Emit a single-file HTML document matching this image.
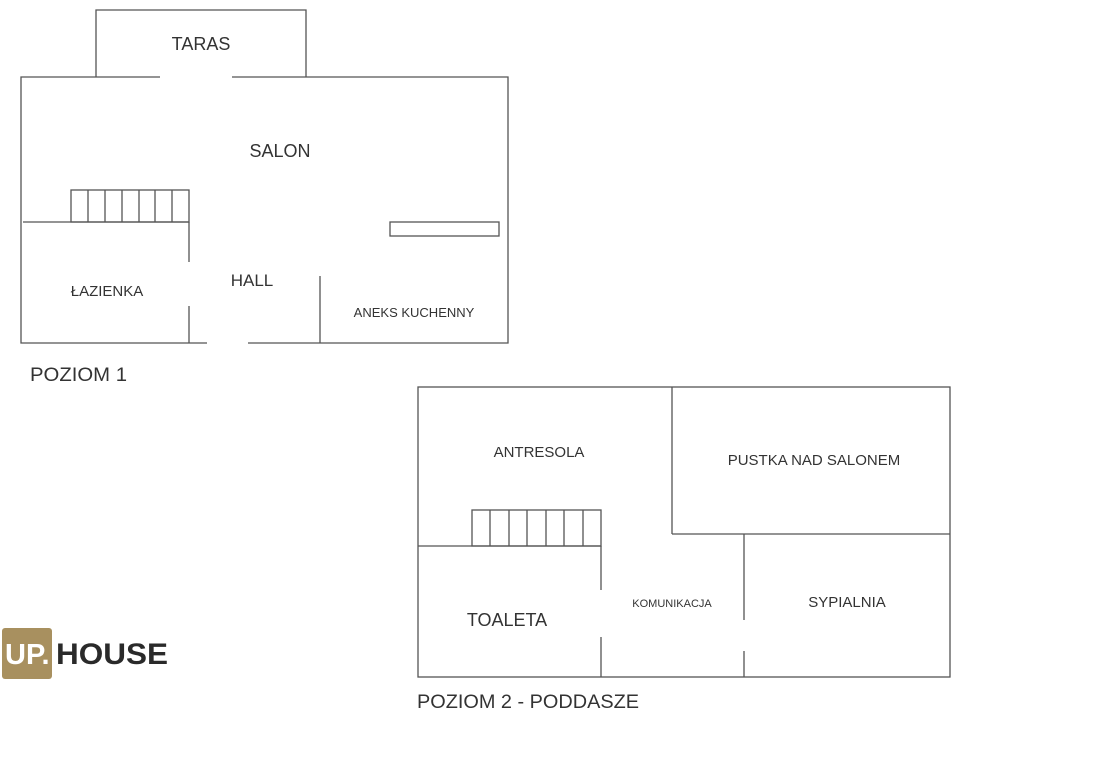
<!DOCTYPE html>
<html><head><meta charset="utf-8"><style>
html,body{margin:0;padding:0;background:#fff;}
svg{display:block}
text{font-family:"Liberation Sans",sans-serif;fill:#333;}
</style></head><body>
<svg width="1102" height="769" viewBox="0 0 1102 769" xmlns="http://www.w3.org/2000/svg">
<g stroke="#555" stroke-width="1.3" fill="none">
<!-- Level 1 -->
<polyline points="96,77 96,10 306,10 306,77"/>
<polyline points="160,77 21,77 21,343 207,343"/>
<polyline points="232,77 508,77 508,343 248,343"/>
<line x1="23" y1="222" x2="189" y2="222"/>
<rect x="71" y="190" width="118" height="32"/>
<line x1="88" y1="190" x2="88" y2="222"/><line x1="105" y1="190" x2="105" y2="222"/>
<line x1="122" y1="190" x2="122" y2="222"/><line x1="139" y1="190" x2="139" y2="222"/>
<line x1="155" y1="190" x2="155" y2="222"/><line x1="172" y1="190" x2="172" y2="222"/>
<line x1="189" y1="222" x2="189" y2="262"/><line x1="189" y1="306" x2="189" y2="343"/>
<rect x="390" y="222" width="109" height="14"/>
<line x1="320" y1="276" x2="320" y2="343"/>
<!-- Level 2 -->
<rect x="418" y="387" width="532" height="290"/>
<line x1="672" y1="387" x2="672" y2="534"/>
<line x1="672" y1="534" x2="950" y2="534"/>
<line x1="744" y1="534" x2="744" y2="620"/><line x1="744" y1="651" x2="744" y2="677"/>
<line x1="418" y1="546" x2="601" y2="546"/>
<rect x="472" y="510" width="129" height="36"/>
<line x1="490" y1="510" x2="490" y2="546"/><line x1="509" y1="510" x2="509" y2="546"/>
<line x1="527" y1="510" x2="527" y2="546"/><line x1="546" y1="510" x2="546" y2="546"/>
<line x1="564" y1="510" x2="564" y2="546"/><line x1="583" y1="510" x2="583" y2="546"/>
<line x1="601" y1="546" x2="601" y2="590"/><line x1="601" y1="637" x2="601" y2="677"/>
</g>
<text x="201" y="50" font-size="18" text-anchor="middle">TARAS</text>
<text x="280" y="157" font-size="18" text-anchor="middle">SALON</text>
<text x="107" y="296" font-size="15" text-anchor="middle">ŁAZIENKA</text>
<text x="252" y="286" font-size="17" text-anchor="middle">HALL</text>
<text x="414" y="317" font-size="13" text-anchor="middle">ANEKS KUCHENNY</text>
<text x="30" y="381" font-size="19" textLength="97" lengthAdjust="spacingAndGlyphs">POZIOM 1</text>
<text x="539" y="457" font-size="15" text-anchor="middle">ANTRESOLA</text>
<text x="814" y="465" font-size="15" text-anchor="middle">PUSTKA NAD SALONEM</text>
<text x="507" y="626" font-size="18" text-anchor="middle">TOALETA</text>
<text x="672" y="607" font-size="11" text-anchor="middle">KOMUNIKACJA</text>
<text x="847" y="607" font-size="15" text-anchor="middle">SYPIALNIA</text>
<text x="417" y="708" font-size="19" textLength="222" lengthAdjust="spacingAndGlyphs">POZIOM 2 - PODDASZE</text>
<rect x="2" y="628" width="50" height="51" rx="3" fill="#a8905f"/>
<text x="5" y="664" font-size="29" font-weight="bold" style="fill:#fff">UP.</text>
<text x="56" y="664" font-size="30" font-weight="bold" style="fill:#2a2a2a" textLength="112" lengthAdjust="spacingAndGlyphs">HOUSE</text>
</svg>
</body></html>
